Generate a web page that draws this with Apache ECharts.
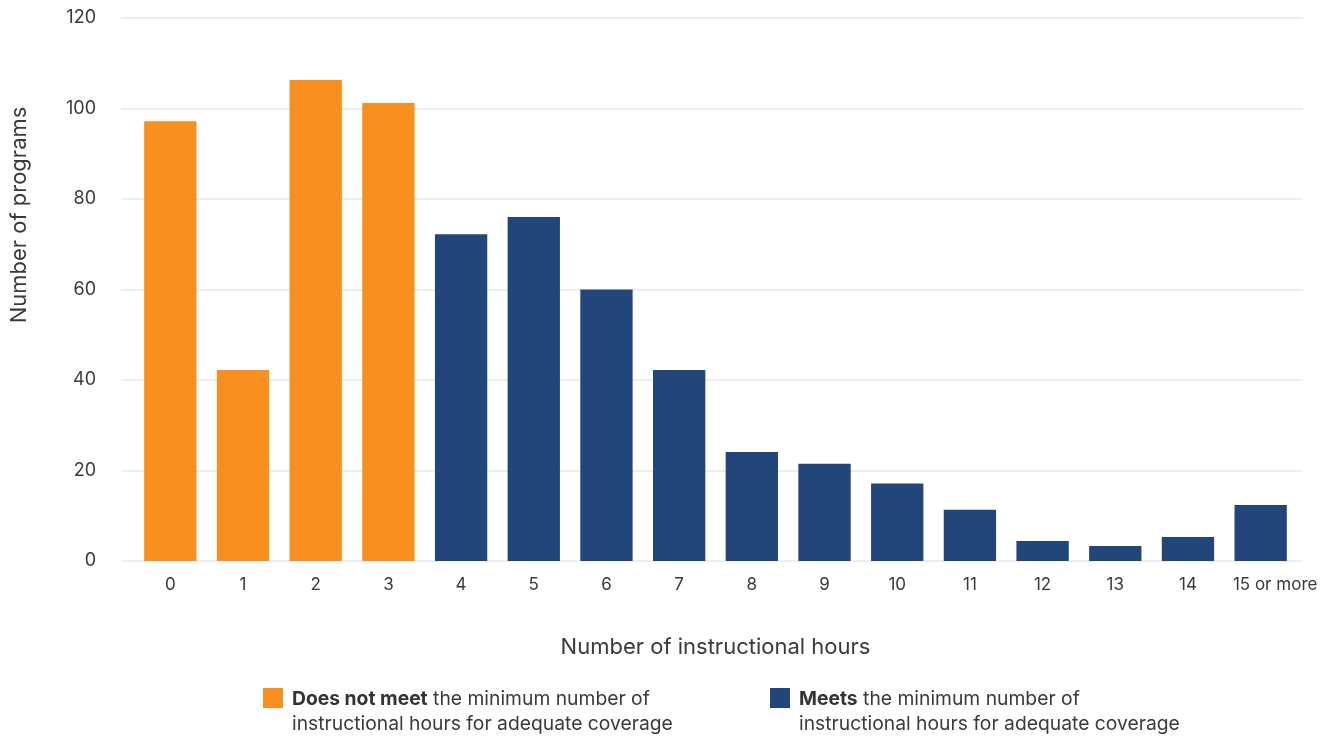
<!DOCTYPE html>
<html>
<head>
<meta charset="utf-8">
<script src="https://cdn.jsdelivr.net/npm/echarts@6/dist/echarts.min.js"></script>
<style>html,body{margin:0;padding:0;background:#fff;}#c{width:1333px;height:736px;}</style>
</head>
<body>
<div id="c"></div>
<script>
var categories = ['0','1','2','3','4','5','6','7','8','9','10','11','12','13','14','15 or more'];
var notMeet = [97.2, 42.2, 106.3, 101.2, null, null, null, null, null, null, null, null, null, null, null, null];
var meets = [null, null, null, null, 72.2, 76, 60, 42.2, 24.1, 21.5, 17.1, 11.3, 4.4, 3.3, 5.3, 12.4];
var yTicks = [0, 20, 40, 60, 80, 100, 120];
var seriesNames = ['Does not meet', 'Meets'];
var seriesColors = ['#F7901E', '#23467A'];
var legendRest = [' the minimum number of', ' the minimum number of'];
var legendLine2 = 'instructional hours for adequate coverage';

var FONT = 'Inter, "Noto Sans", sans-serif';
var TXT = '#3a3a3a';

var chart = echarts.init(document.getElementById('c'), null, {renderer: 'canvas'});

function legendGraphic(i, x) {
  return {
    type: 'group', left: x, top: 688,
    children: [
      {type: 'rect', shape: {x: 0, y: 0, width: 20, height: 20}, style: {fill: seriesColors[i]}},
      {type: 'text', x: 29, y: -1, style: {
        text: '{b|' + seriesNames[i] + '}{n|' + legendRest[i] + '}\n{n|' + legendLine2 + '}',
        rich: {
          b: {fontFamily: FONT, fontSize: 19.3, fontWeight: 'bold', fill: '#333', lineHeight: 25},
          n: {fontFamily: FONT, fontSize: 19.3, fill: TXT, lineHeight: 25}
        }
      }}
    ]
  };
}

chart.setOption({
  animation: false,
  textStyle: {fontFamily: FONT},
  grid: [
    {left: 121, right: 30, top: 18, bottom: 175, containLabel: false},
    {left: 134, right: 36, top: 18, bottom: 175, containLabel: false}
  ],
  xAxis: [
    {gridIndex: 0, type: 'category', data: categories, show: false},
    {
      gridIndex: 1, type: 'category', data: categories.map(function (c, i) {
        return i === categories.length - 1 ? {value: c, textStyle: {padding: [0, 0, 0, 29]}} : c;
      }),
      axisLine: {show: false}, axisTick: {show: false},
      axisLabel: {color: TXT, fontSize: 17, margin: 15, fontFamily: FONT, interval: 0},
      name: 'Number of instructional hours', nameLocation: 'middle', nameGap: 75,
      nameTextStyle: {color: TXT, fontSize: 22, fontFamily: FONT}
    }
  ],
  yAxis: [
    {
      gridIndex: 0, type: 'value', min: yTicks[0], max: yTicks[yTicks.length - 1], interval: 20,
      axisLine: {show: false}, axisTick: {show: false},
      axisLabel: {color: TXT, fontSize: 18, margin: 25, fontFamily: FONT},
      splitLine: {lineStyle: {color: '#e8e8e8', width: 1.5}}
    },
    {
      gridIndex: 1, type: 'value', min: yTicks[0], max: yTicks[yTicks.length - 1], interval: 20,
      show: false, splitLine: {show: false}
    }
  ],
  series: [
    {name: seriesNames[0], type: 'bar', xAxisIndex: 1, yAxisIndex: 1, stack: 'all', data: notMeet,
      barCategoryGap: '28%', itemStyle: {color: seriesColors[0]}},
    {name: seriesNames[1], type: 'bar', xAxisIndex: 1, yAxisIndex: 1, stack: 'all', data: meets,
      barCategoryGap: '28%', itemStyle: {color: seriesColors[1]}}
  ],
  graphic: [
    {type: 'text', x: 19, y: 215, rotation: Math.PI / 2,
      style: {text: 'Number of programs', fontFamily: FONT, fontSize: 22, fill: TXT, align: 'center', verticalAlign: 'middle'}},
    legendGraphic(0, 263),
    legendGraphic(1, 770)
  ]
});
</script>
</body>
</html>
